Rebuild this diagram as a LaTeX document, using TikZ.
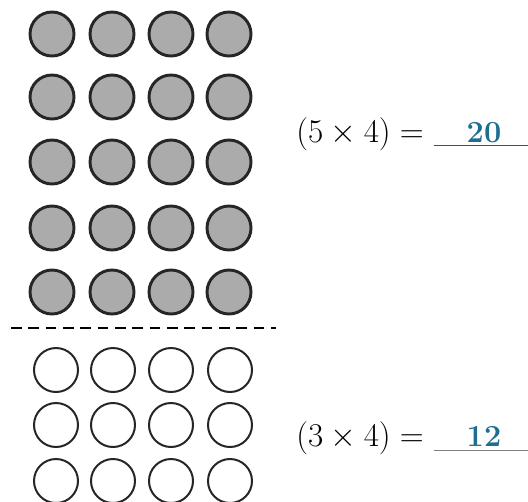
\documentclass[tikz,border=0pt]{standalone}
\usepackage{amsmath,amssymb}
\usepackage{tikz}
\usetikzlibrary{positioning}
\definecolor{answerblue}{RGB}{30,110,145}
\begin{document}
\begin{tikzpicture}[x=0.75pt, y=-0.75pt,
  every node/.style={inner sep=0pt},
  fullcirc/.style={circle, draw=black!85, line width=2.2pt, fill=black!33, minimum size=33pt},
  emptycirc/.style={circle, draw=black!85, line width=1.5pt, fill=white, minimum size=33pt},
  sumtext/.style={font=\fontsize{24}{28}\selectfont, anchor=base west},
  answer/.style={font=\fontsize{23}{28}\selectfont\bfseries, text=answerblue, anchor=base}]
  \useasboundingbox (0,0) rectangle (528,501);
  % shaded rows: five of four
  \foreach \r/\y in {1/34,2/97,3/162,4/228,5/292}
    \foreach \c/\x in {1/52,2/112,3/171,4/229}
      \node[fullcirc] (f\r\c) at (\x,\y) {};
  % dividing line
  \coordinate (cutl) at (11,328);
  \coordinate (cutr) at (276,328);
  \draw[line width=1.6pt, dash pattern=on 8pt off 5pt] (cutl) -- (cutr);
  % open rows: three of four
  \foreach \r/\y in {1/370,2/425,3/481}
    \foreach \c/\x in {1/56,2/113,3/171,4/230}
      \node[emptycirc] (e\r\c) at (\x,\y) {};
  % equations
  \node[sumtext] (sumtop) at (296,142) {$(5\times 4) =$};
  \node[answer] (anstop) at (484,142) {20};
  \coordinate (linetopl) at (434,145.5);
  \coordinate (linetopr) at (528,145.5);
  \draw[line width=1.3pt, black!70] (linetopl) -- (linetopr);
  \node[sumtext] (sumbot) at (296,446) {$(3\times 4) =$};
  \node[answer] (ansbot) at (484,446) {12};
  \coordinate (linebotl) at (434,450.5);
  \coordinate (linebotr) at (528,450.5);
  \draw[line width=1.3pt, black!50] (linebotl) -- (linebotr);
\end{tikzpicture}
\end{document}
